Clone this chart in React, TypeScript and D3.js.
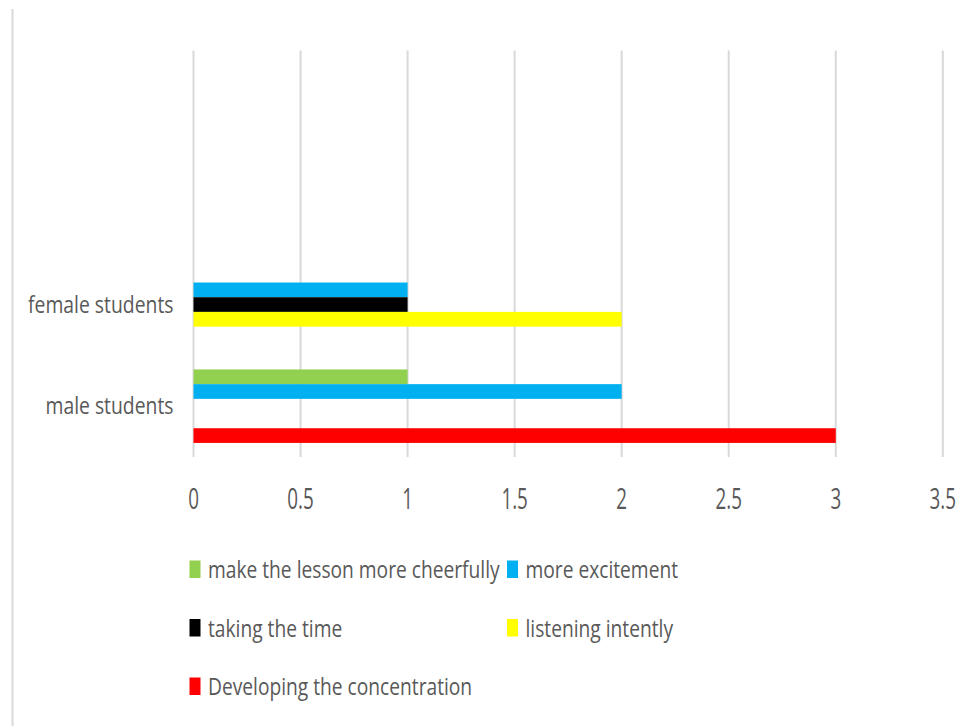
import React from "react";
import * as d3 from "d3";

const categories = ["male students", "female students"];
const categorySlots = 4; // plot holds four category slots; two are empty
const seriesNames = [
  "make the lesson more cheerfully",
  "more excitement",
  "taking the time",
  "listening intently",
  "Developing the concentration",
];
const seriesColors = ["#92D050", "#00B0F0", "#000000", "#FFFF00", "#FF0000"];
// values per series, in category order [male, female]
const cheerfully = [1, 0];
const excitement = [2, 1];
const takingTime = [0, 1];
const listening = [0, 2];
const concentration = [3, 0];
const seriesValues = [cheerfully, excitement, takingTime, listening, concentration];
const xTicks = [0, 0.5, 1, 1.5, 2, 2.5, 3, 3.5];

const W = 975;
const H = 726;
const TEXT = "#595959";
const GRID = "#D9D9D9";
const FONT = "'Open Sans', sans-serif";

function SText({ x, y, sx, size, anchor, children }: any) {
  return (
    <text
      transform={`translate(${x},${y}) scale(${sx},1)`}
      fontFamily={FONT}
      fontSize={size}
      fill={TEXT}
      textAnchor={anchor || "start"}
    >
      {children}
    </text>
  );
}

export default function App() {
  const x = d3.scaleLinear().domain([0, 3.5]).range([193.5, 942.8]);
  // slot index 0 = bottom
  const slots = d3.range(categorySlots);
  const y = d3
    .scaleBand<number>()
    .domain(slots.slice().reverse())
    .range([50.5, 457]);
  const bw = y.bandwidth();
  const inner = d3
    .scaleBand<string>()
    .domain(seriesNames)
    .range([bw * 0.1385, bw * 0.8615]);

  const legendItems = seriesNames.map((name, i) => ({
    name,
    color: seriesColors[i],
    col: i === 4 ? 0 : i % 2,
    row: Math.floor(i / 2),
  }));
  const legendColX = [189.5, 507];
  const legendBaseY = 578;
  const legendRowStep = 58.5;

  return (
    <svg
      width={W}
      height={H}
      style={{ position: "absolute", left: 0, top: 0, background: "#fff" }}
    >
      <rect x={0} y={0} width={W} height={H} fill="#fff" />
      <line x1={12.5} x2={12.5} y1={9} y2={H} stroke={GRID} strokeWidth={2} />
      {xTicks.map((t) => (
        <line
          key={"g" + t}
          x1={x(t)}
          x2={x(t)}
          y1={50.5}
          y2={457}
          stroke={GRID}
          strokeWidth={2}
        />
      ))}
      {categories.map((c, ci) => (
        <g key={c} transform={`translate(0,${y(ci)})`}>
          {seriesNames.map((s, si) => {
            const v = seriesValues[si][ci];
            if (!v) return null;
            return (
              <rect
                key={s}
                x={x(0)}
                y={inner(s)}
                width={x(v) - x(0)}
                height={inner.bandwidth()}
                fill={seriesColors[si]}
              />
            );
          })}
        </g>
      ))}
      {categories.map((c, ci) => (
        <SText
          key={"l" + c}
          x={173.5}
          y={(y(ci) as number) + bw / 2 + 8}
          sx={0.83}
          size={23.3}
          anchor="end"
        >
          {c}
        </SText>
      ))}
      {xTicks.map((t) => (
        <SText key={"t" + t} x={x(t)} y={509} sx={0.66} size={28.5} anchor="middle">
          {String(t)}
        </SText>
      ))}
      {legendItems.map((it) => {
        const lx = legendColX[it.col];
        const ly = legendBaseY + it.row * legendRowStep;
        return (
          <g key={it.name}>
            <rect x={lx} y={ly - 17.5} width={11} height={17.5} fill={it.color} />
            <SText x={lx + 18.5} y={ly} sx={0.8} size={24}>
              {it.name}
            </SText>
          </g>
        );
      })}
    </svg>
  );
}
